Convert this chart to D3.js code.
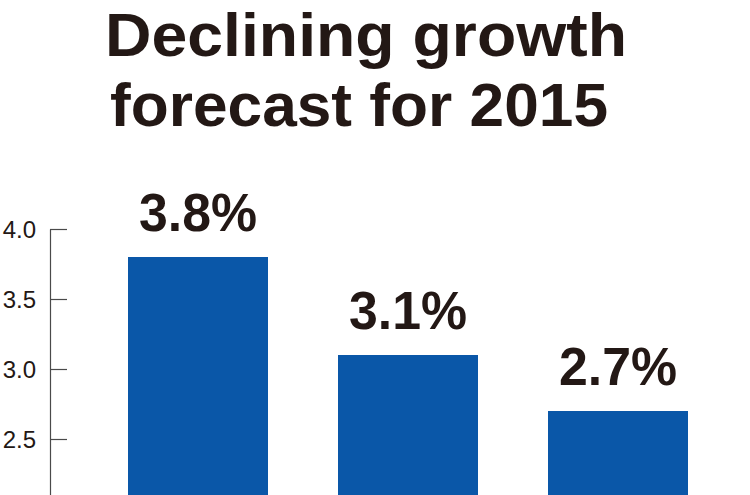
<!DOCTYPE html>
<html>
<head>
<meta charset="utf-8">
<script src="https://cdn.jsdelivr.net/npm/d3@7"></script>
<style>
  html, body { margin: 0; padding: 0; background: #fff; }
  svg { display: block; }
</style>
</head>
<body>
<svg id="chart" width="750" height="495"></svg>
<script>
const titleLines = ["Declining growth", "forecast for 2015"];
const categories = ["A", "B", "C"];
const values = [3.8, 3.1, 2.7];
const valueLabels = ["3.8%", "3.1%", "2.7%"];
const tickValues = [2.5, 3.0, 3.5, 4.0];
const tickLabels = ["2.5", "3.0", "3.5", "4.0"];

const svg = d3.select("#chart");
const ink = "#231815";
const blue = "#0a57a8";
const font = "'Liberation Sans', Arial, Helvetica, sans-serif";

// Title
const titleGeo = [
  { y: 56, cx: 366, len: 522 },
  { y: 126, cx: 359, len: 498 }
];
svg.selectAll("text.title").data(titleLines).enter().append("text")
  .attr("class", "title")
  .attr("x", (d, i) => titleGeo[i].cx)
  .attr("y", (d, i) => titleGeo[i].y)
  .attr("text-anchor", "middle")
  .attr("textLength", (d, i) => titleGeo[i].len)
  .attr("lengthAdjust", "spacingAndGlyphs")
  .style("font-family", font)
  .style("font-weight", "bold")
  .style("font-size", "61px")
  .style("fill", ink)
  .text(d => d);

// Scales
const y = d3.scaleLinear().domain([0, 4]).range([789, 229]);
const x = d3.scaleBand().domain(categories).range([128, 688]).paddingInner(1/3).paddingOuter(0);

// Axis
const axis = d3.axisRight(y).tickValues(tickValues).tickSize(17).tickSizeOuter(0)
  .tickFormat((d, i) => tickLabels[i]);
const g = svg.append("g").attr("transform", "translate(50,0)").call(axis);
g.select(".domain").attr("stroke", "#4a4a4a").attr("stroke-width", 1.2);
g.selectAll(".tick line").attr("stroke", "#4a4a4a").attr("stroke-width", 1.2);
g.selectAll(".tick text")
  .attr("x", -14)
  .attr("dy", "0.36em")
  .attr("text-anchor", "end")
  .style("font-family", font)
  .style("font-size", "24px")
  .style("fill", ink);

// Bars
svg.selectAll("rect.bar").data(values).enter().append("rect")
  .attr("class", "bar")
  .attr("x", (d, i) => x(categories[i]))
  .attr("width", x.bandwidth())
  .attr("y", d => y(d))
  .attr("height", d => y(0) - y(d))
  .attr("fill", blue);

// Value labels
svg.selectAll("text.val").data(values).enter().append("text")
  .attr("class", "val")
  .attr("x", (d, i) => x(categories[i]) + x.bandwidth() / 2)
  .attr("y", d => y(d) - 26)
  .attr("text-anchor", "middle")
  .attr("textLength", 118)
  .attr("lengthAdjust", "spacingAndGlyphs")
  .style("font-family", font)
  .style("font-weight", "bold")
  .style("font-size", "54px")
  .style("fill", ink)
  .text((d, i) => valueLabels[i]);
</script>
</body>
</html>
